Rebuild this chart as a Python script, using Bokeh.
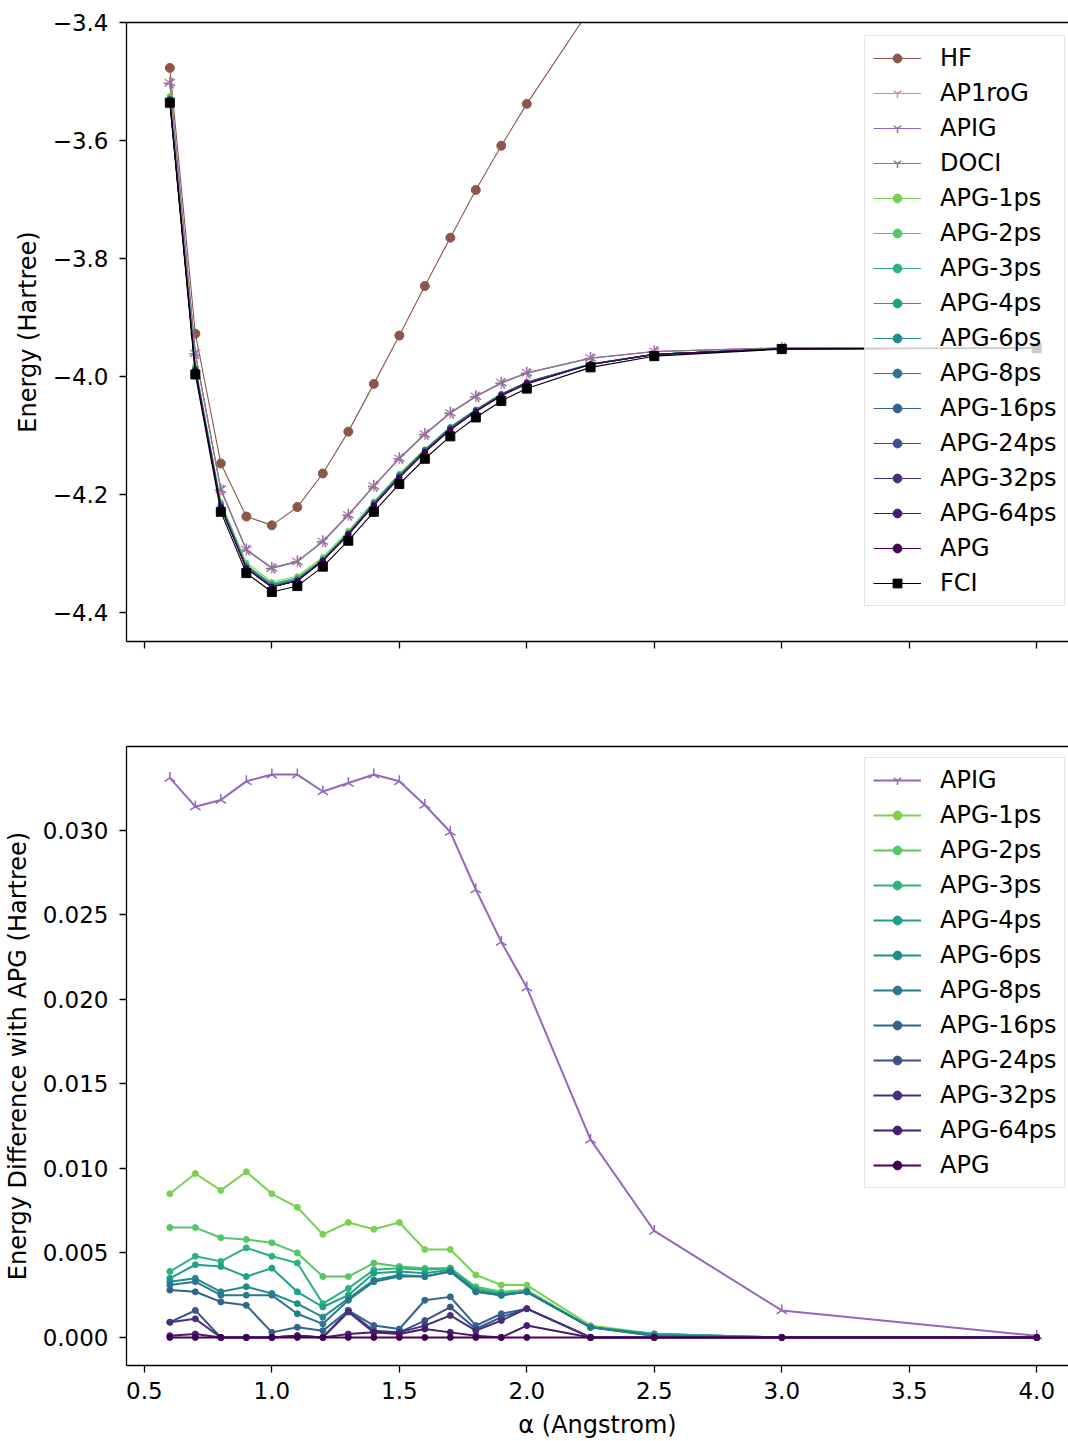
import numpy as np
from bokeh.plotting import figure
from bokeh.models import Range1d, FixedTicker, Legend, LegendItem, LinearAxis
from bokeh.layouts import column
from bokeh.embed import file_html
from bokeh.resources import INLINE

# ---------------- data ----------------
bond = [0.6, 0.7, 0.8, 0.9, 1.0, 1.1, 1.2, 1.3, 1.4, 1.5, 1.6, 1.7, 1.8, 1.9, 2.0, 2.25, 2.5, 3.0, 4.0]

E_HF = [-3.477, -3.928, -4.148, -4.238, -4.253, -4.222, -4.165, -4.094, -4.013, -3.931,
        -3.847, -3.765, -3.684, -3.609, -3.538, -3.376, -3.25, -3.05, -2.80]
E_AP1roG = [-3.502, -3.961, -4.192, -4.294, -4.325, -4.314, -4.280, -4.235, -4.186, -4.139,
            -4.098, -4.062, -4.034, -4.011, -3.994, -3.969, -3.958, -3.952, -3.9524]
E_APIG = [-3.502, -3.961, -4.192, -4.294, -4.325, -4.314, -4.280, -4.235, -4.186, -4.139,
          -4.098, -4.062, -4.034, -4.011, -3.994, -3.969, -3.958, -3.952, -3.9524]
E_DOCI = [-3.503, -3.962, -4.193, -4.295, -4.326, -4.315, -4.281, -4.236, -4.187, -4.140,
          -4.099, -4.063, -4.035, -4.012, -3.995, -3.970, -3.958, -3.952, -3.9524]
E_APG = [-3.533, -3.991, -4.222, -4.326, -4.3575, -4.347, -4.313, -4.269, -4.219, -4.172,
         -4.129, -4.091, -4.060, -4.033, -4.013, -3.980, -3.963, -3.9535, -3.9525]
E_FCI = [-3.536, -3.997, -4.230, -4.334, -4.366, -4.356, -4.323, -4.279, -4.230, -4.183,
         -4.140, -4.102, -4.070, -4.042, -4.021, -3.985, -3.966, -3.954, -3.9525]

# differences with APG (Hartree)
D_APIG = [0.0331, 0.0314, 0.0318, 0.0329, 0.0333, 0.0333, 0.0323, 0.0328, 0.0333, 0.0329,
          0.0315, 0.0299, 0.0265, 0.0234, 0.0207, 0.0117, 0.0063, 0.0016, 0.0001]
D_1ps = [0.0085, 0.0097, 0.0087, 0.0098, 0.0085, 0.0077, 0.0061, 0.0068, 0.0064, 0.0068,
         0.0052, 0.0052, 0.0037, 0.0031, 0.0031, 0.0007, 0.0002, 0.0, 0.0]
D_2ps = [0.0065, 0.0065, 0.0059, 0.0058, 0.0056, 0.0050, 0.0036, 0.0036, 0.0044, 0.0042,
         0.0041, 0.0041, 0.0030, 0.0027, 0.0028, 0.0006, 0.0002, 0.0, 0.0]
D_3ps = [0.0039, 0.0048, 0.0045, 0.0053, 0.0048, 0.0044, 0.0020, 0.0029, 0.0040, 0.0041,
         0.0040, 0.0041, 0.0029, 0.0026, 0.0027, 0.0006, 0.0002, 0.0, 0.0]
D_4ps = [0.0035, 0.0043, 0.0042, 0.0036, 0.0041, 0.0027, 0.0018, 0.0025, 0.0038, 0.0039,
         0.0038, 0.0040, 0.0028, 0.0025, 0.0027, 0.0006, 0.0002, 0.0, 0.0]
D_6ps = [0.0033, 0.0035, 0.0027, 0.0030, 0.0026, 0.0020, 0.0012, 0.0023, 0.0034, 0.0037,
         0.0036, 0.0039, 0.0027, 0.0025, 0.0027, 0.0006, 0.0001, 0.0, 0.0]
D_8ps = [0.0031, 0.0033, 0.0025, 0.0025, 0.0025, 0.0014, 0.0008, 0.0022, 0.0033, 0.0036,
         0.0036, 0.0039, 0.0027, 0.0025, 0.0027, 0.0006, 0.0001, 0.0, 0.0]
D_16ps = [0.0028, 0.0027, 0.0021, 0.0019, 0.0003, 0.0006, 0.0004, 0.0016, 0.0007, 0.0005,
          0.0022, 0.0024, 0.0007, 0.0014, 0.0017, 0.0, 0.0, 0.0, 0.0]
D_24ps = [0.0009, 0.0016, 0.0, 0.0, 0.0, 0.0001, 0.0, 0.0016, 0.0004, 0.0003,
          0.0010, 0.0018, 0.0005, 0.0012, 0.0017, 0.0, 0.0, 0.0, 0.0]
D_32ps = [0.0009, 0.0011, 0.0, 0.0, 0.0, 0.0001, 0.0, 0.0015, 0.0003, 0.0003,
          0.0007, 0.0013, 0.0004, 0.0010, 0.0017, 0.0, 0.0, 0.0, 0.0]
D_64ps = [0.0001, 0.0002, 0.0, 0.0, 0.0, 0.0001, 0.0, 0.0002, 0.0003, 0.0002,
          0.0005, 0.0003, 0.0001, 0.0, 0.0007, 0.0, 0.0, 0.0, 0.0]
D_APG = [0.0] * len(bond)

apg_labels = ["APG-1ps", "APG-2ps", "APG-3ps", "APG-4ps", "APG-6ps", "APG-8ps",
              "APG-16ps", "APG-24ps", "APG-32ps", "APG-64ps", "APG"]
apg_diffs = [D_1ps, D_2ps, D_3ps, D_4ps, D_6ps, D_8ps, D_16ps, D_24ps, D_32ps, D_64ps, D_APG]

x_ticks = [0.5, 1.0, 1.5, 2.0, 2.5, 3.0, 3.5, 4.0]
x_ticklabels = ["0.5", "1.0", "1.5", "2.0", "2.5", "3.0", "3.5", "4.0"]
top_yticks = [-4.4, -4.2, -4.0, -3.8, -3.6, -3.4]
top_yticklabels = ["\u22124.4", "\u22124.2", "\u22124.0", "\u22123.8", "\u22123.6", "\u22123.4"]
bot_yticks = [0.0, 0.005, 0.010, 0.015, 0.020, 0.025, 0.030]
bot_yticklabels = ["0.000", "0.005", "0.010", "0.015", "0.020", "0.025", "0.030"]

# ---------------- style ----------------
FONT = "DejaVu Sans"
apg_colors = ["#7ad151", "#56c667", "#2eb37c", "#1fa188", "#228c8d", "#2a788e",
              "#33638d", "#3b528b", "#472f7d", "#481b6d", "#440154"]
C_HF, C_AP1, C_APIG, C_DOCI = "#8c564b", "#e377c2", "#9467bd", "#7f7f7f"

x_rng = Range1d(0.43, 4.1245)


def style_axis(ax):
    ax.axis_line_width = 1.3
    ax.axis_line_color = "black"
    ax.major_tick_line_width = 1.3
    ax.major_tick_line_color = "black"
    ax.major_tick_out = 7
    ax.major_tick_in = 0
    ax.minor_tick_out = 0
    ax.minor_tick_in = 0
    ax.major_label_text_font = FONT
    ax.major_label_text_font_size = "23px"
    ax.major_label_text_color = "black"
    ax.major_label_standoff = 11
    ax.axis_label_text_font = FONT
    ax.axis_label_text_font_size = "24px"
    ax.axis_label_text_font_style = "normal"
    ax.axis_label_text_color = "black"
    ax.axis_label_standoff = 8


def add_top_spine(p):
    top = LinearAxis(ticker=FixedTicker(ticks=[]), axis_line_width=1.3,
                     axis_line_color="black", major_tick_out=0, major_tick_in=0,
                     minor_tick_out=0, minor_tick_in=0, major_label_standoff=0,
                     major_label_text_font_size="1px")
    p.add_layout(top, "above")


def make_legend(items, loc):
    return Legend(items=items, location=loc, label_text_font=FONT,
                  label_text_font_size="24px", label_text_color="black",
                  glyph_width=48, glyph_height=22, label_height=28,
                  label_standoff=19, spacing=7, padding=8, margin=0,
                  border_line_color="#cccccc", border_line_width=1.3,
                  background_fill_color="white", background_fill_alpha=0.8)


# ---------------- top panel ----------------
p1 = figure(width=1068, height=708, x_range=x_rng, y_range=Range1d(-4.45, -3.4),
            output_backend="svg", toolbar_location=None,
            min_border_left=126, min_border_right=0, min_border_top=22, min_border_bottom=67)
p1.outline_line_color = None
p1.grid.visible = False
xa1, ya1 = p1.below[0], p1.left[0]
style_axis(xa1)
style_axis(ya1)
xa1.ticker = FixedTicker(ticks=x_ticks)
xa1.major_label_overrides = {t: "" for t in x_ticks}
ya1.ticker = FixedTicker(ticks=top_yticks)
ya1.major_label_overrides = dict(zip(top_yticks, top_yticklabels))
ya1.axis_label = "Energy (Hartree)"
add_top_spine(p1)

items1 = []
LW1 = 1.1
l = p1.line(bond, E_HF, line_color=C_HF, line_width=LW1)
s = p1.scatter(bond, E_HF, marker="circle", size=9, fill_color=C_HF, line_color=C_HF)
items1.append(LegendItem(label="HF", renderers=[l, s]))
l = p1.line(bond, E_AP1roG, line_color=C_AP1, line_width=LW1)
s = p1.scatter(bond, E_AP1roG, marker="y", size=12, line_color=C_AP1, line_width=1.5)
items1.append(LegendItem(label="AP1roG", renderers=[l, s]))
l = p1.line(bond, E_APIG, line_color=C_APIG, line_width=LW1)
s = p1.scatter(bond, E_APIG, marker="y", angle=np.pi, size=12, line_color=C_APIG, line_width=1.5)
items1.append(LegendItem(label="APIG", renderers=[l, s]))
l = p1.line(bond, E_DOCI, line_color=C_DOCI, line_width=LW1)
s = p1.scatter(bond, E_DOCI, marker="y", angle=-np.pi / 2, size=12, line_color=C_DOCI, line_width=1.5)
items1.append(LegendItem(label="DOCI", renderers=[l, s]))
for lab, d, c in zip(apg_labels, apg_diffs, apg_colors):
    e = [a + b for a, b in zip(E_APG, d)]
    l = p1.line(bond, e, line_color=c, line_width=LW1)
    s = p1.scatter(bond, e, marker="circle", size=5, fill_color=c, line_color=c)
    items1.append(LegendItem(label=lab, renderers=[l, s]))
l = p1.line(bond, E_FCI, line_color="black", line_width=LW1)
s = p1.scatter(bond, E_FCI, marker="square", size=9, fill_color="black", line_color="black")
items1.append(LegendItem(label="FCI", renderers=[l, s]))
p1.add_layout(make_legend(items1, (738, 35)))

# ---------------- bottom panel ----------------
p2 = figure(width=1068, height=733, x_range=x_rng, y_range=Range1d(-0.00166, 0.03496),
            output_backend="svg", toolbar_location=None,
            min_border_left=126, min_border_right=0, min_border_top=38, min_border_bottom=75)
p2.outline_line_color = None
p2.grid.visible = False
xa2, ya2 = p2.below[0], p2.left[0]
style_axis(xa2)
style_axis(ya2)
xa2.ticker = FixedTicker(ticks=x_ticks)
xa2.major_label_overrides = dict(zip(x_ticks, x_ticklabels))
ya2.ticker = FixedTicker(ticks=bot_yticks)
ya2.major_label_overrides = dict(zip(bot_yticks, bot_yticklabels))
ya2.axis_label = "Energy Difference with APG (Hartree)"
xa2.axis_label = "\u03b1 (Angstrom)"
xa2.major_label_standoff = 9
xa2.axis_label_standoff = 9
add_top_spine(p2)

items2 = []
LW2 = 2.0
l = p2.line(bond, D_APIG, line_color=C_APIG, line_width=LW2)
s = p2.scatter(bond, D_APIG, marker="y", angle=np.pi, size=12, line_color=C_APIG, line_width=1.5)
items2.append(LegendItem(label="APIG", renderers=[l, s]))
for lab, d, c in zip(apg_labels, apg_diffs, apg_colors):
    l = p2.line(bond, d, line_color=c, line_width=LW2)
    s = p2.scatter(bond, d, marker="circle", size=6, fill_color=c, line_color=c)
    items2.append(LegendItem(label=lab, renderers=[l, s]))
p2.add_layout(make_legend(items2, (738, 177)))

layout = column(p1, p2, spacing=0)
open("out.html", "w").write(file_html(layout, INLINE))
